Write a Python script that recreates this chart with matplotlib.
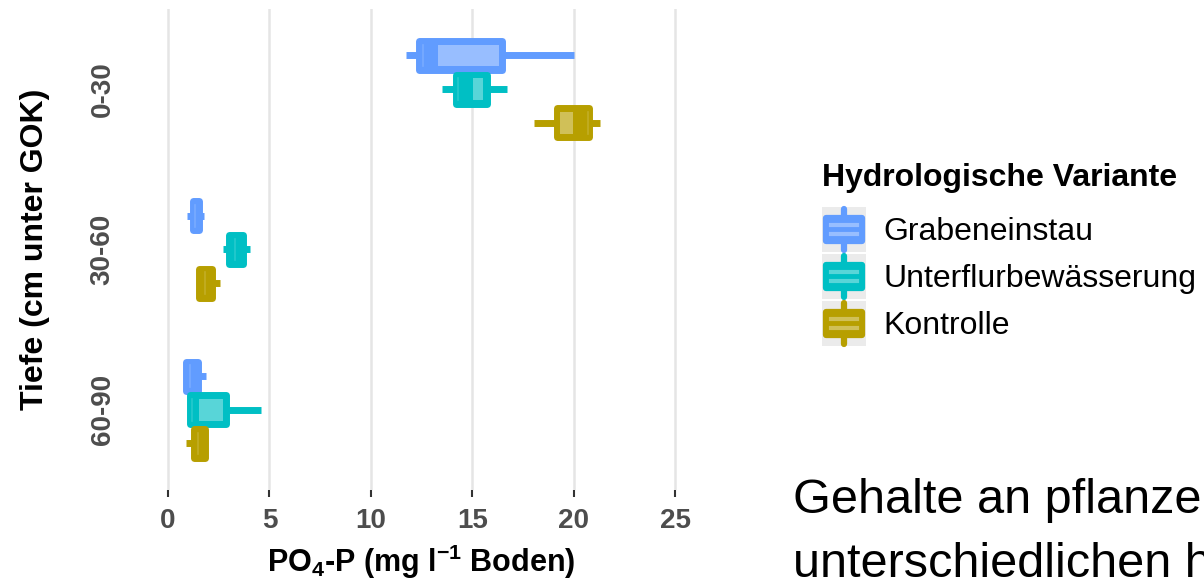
import numpy as np
import matplotlib
matplotlib.use("Agg")
import matplotlib.pyplot as plt
from matplotlib.patches import Rectangle
from matplotlib.lines import Line2D
from matplotlib.legend_handler import HandlerBase

plt.rcParams['font.family'] = ['Liberation Sans', 'DejaVu Sans']
plt.rcParams['mathtext.default'] = 'regular'

# depth classes and hydrological variants
depths = ['0-30', '30-60', '60-90']
variants = ['Grabeneinstau', 'Unterflurbewässerung', 'Kontrolle']
colors = ['#619CFF', '#00BFC4', '#B79F00']

# box statistics per variant, one value per depth (mg PO4-P / l soil)
grab_wlo = [11.74, 0.95, 0.91]
grab_q1 = [12.40, 1.21, 0.91]
grab_med = [12.57, 1.35, 1.10]
grab_q3 = [16.49, 1.55, 1.50]
grab_whi = [20.02, 1.75, 1.87]
grab_clo = [13.31, np.nan, np.nan]
grab_chi = [16.32, np.nan, np.nan]

unter_wlo = [13.51, 2.71, 1.06]
unter_q1 = [14.18, 3.03, 1.06]
unter_med = [14.30, 3.30, 1.20]
unter_q3 = [15.75, 3.72, 2.88]
unter_whi = [16.72, 4.04, 4.59]
unter_clo = [15.04, np.nan, 1.53]
unter_chi = [15.53, np.nan, 2.71]

kontr_wlo = [18.05, 1.55, 0.89]
kontr_q1 = [19.16, 1.55, 1.26]
kontr_med = [20.70, 1.80, 1.50]
kontr_q3 = [20.78, 2.19, 1.80]
kontr_whi = [21.30, 2.56, 1.80]
kontr_clo = [19.33, np.nan, np.nan]
kontr_chi = [19.97, np.nan, np.nan]

stats = [
    (grab_wlo, grab_q1, grab_med, grab_q3, grab_whi, grab_clo, grab_chi),
    (unter_wlo, unter_q1, unter_med, unter_q3, unter_whi, unter_clo, unter_chi),
    (kontr_wlo, kontr_q1, kontr_med, kontr_q3, kontr_whi, kontr_clo, kontr_chi),
]

x_ticks = [0, 5, 10, 15, 20, 25]

fig = plt.figure(figsize=(12.04, 5.80), dpi=100)
ax = fig.add_axes([0.1227, 0.1552, 0.4548, 0.8293])

offsets = [-0.21, 0.0, 0.21]
box_h = 0.18
lw = 5.0
inset = 0.022

for g, (wlo, q1, med, q3, whi, clo, chi) in enumerate(stats):
    col = colors[g]
    for i in range(len(depths)):
        y = i + offsets[g]
        ax.plot([wlo[i], whi[i]], [y, y], color=col, lw=lw,
                solid_capstyle='butt', zorder=2)
        ax.add_patch(Rectangle((q1[i], y - box_h / 2), q3[i] - q1[i], box_h,
                               facecolor=col, edgecolor=col, lw=lw,
                               joinstyle='round', zorder=3))
        ax.plot([med[i], med[i]], [y - box_h / 2 + inset, y + box_h / 2 - inset],
                color='white', alpha=0.15, lw=1.2, zorder=4)
        if not np.isnan(clo[i]):
            ax.add_patch(Rectangle((clo[i], y - box_h / 2 + inset), chi[i] - clo[i],
                                   box_h - 2 * inset, facecolor='white', alpha=0.35,
                                   edgecolor='none', zorder=5))

ax.set_xlim(-1.0, 26.0)
ax.set_ylim(2.5, -0.5)
ax.set_xticks(x_ticks)
ax.set_xticklabels([str(t) for t in x_ticks])
ax.set_yticks(range(len(depths)))
ax.set_yticklabels(depths, rotation=90, va='center')
ax.grid(axis='x', color='#E5E5E5', lw=1.8, zorder=0)
ax.set_axisbelow(True)
for s in ax.spines.values():
    s.set_visible(False)
ax.tick_params(axis='x', length=5, width=1.5, color='#333333', pad=8,
               labelsize=20, labelcolor='#4D4D4D')
ax.tick_params(axis='y', length=0, pad=23, labelsize=20, labelcolor='#4D4D4D')
for lab in ax.get_xticklabels() + ax.get_yticklabels():
    lab.set_fontweight('bold')

ax.set_xlabel(r'PO$_4$-P (mg l$^{-1}$ Boden)', fontsize=22, fontweight='bold', labelpad=6)
ax.set_ylabel('Tiefe (cm unter GOK)', fontsize=23, fontweight='bold', labelpad=29)


class BoxKeyHandler(HandlerBase):
    def create_artists(self, legend, orig_handle, xdescent, ydescent,
                       width, height, fontsize, trans):
        col = orig_handle.get_facecolor()
        x0, y0 = -xdescent, -ydescent
        bg = Rectangle((x0, y0), width, height, facecolor='#EBEBEB',
                       edgecolor='none', transform=trans)
        wh = Line2D([x0 + width / 2] * 2, [y0 + 1.5, y0 + height - 1.5], color=col,
                    lw=4.5, solid_capstyle='round', transform=trans)
        bx = Rectangle((x0 + width * 0.1, y0 + height * 0.24), width * 0.8,
                       height * 0.52, facecolor=col, edgecolor=col, lw=4.5,
                       joinstyle='round', transform=trans)
        b1 = Line2D([x0 + width * 0.2, x0 + width * 0.8],
                    [y0 + height * 0.4] * 2, color='white', alpha=0.35, lw=3,
                    transform=trans)
        b2 = Line2D([x0 + width * 0.2, x0 + width * 0.8],
                    [y0 + height * 0.6] * 2, color='white', alpha=0.35, lw=3,
                    transform=trans)
        return [bg, wh, bx, b1, b2]


handles = [Rectangle((0, 0), 1, 1, facecolor=c) for c in colors]
leg = fig.legend(handles, variants, loc='upper left',
                 bbox_to_anchor=(822 / 1204, (580 - 163) / 580),
                 frameon=False, fontsize=23, title='Hydrologische Variante',
                 title_fontproperties={'weight': 'bold', 'size': 23},
                 handler_map={Rectangle: BoxKeyHandler()},
                 handlelength=1.375, handleheight=1.8, labelspacing=0.06,
                 handletextpad=0.56, borderpad=0, borderaxespad=0,
                 alignment='left')
leg._legend_box.sep = 10

fig.text(793 / 1204, (580 - 513) / 580, 'Gehalte an pflanzenverfügbarem Phosphat',
         fontsize=35, va='baseline', ha='left')
fig.text(793 / 1204, (580 - 577) / 580, 'unterschiedlichen hydrologischen Varianten',
         fontsize=35, va='baseline', ha='left')

fig.savefig('out.png', dpi=100)
